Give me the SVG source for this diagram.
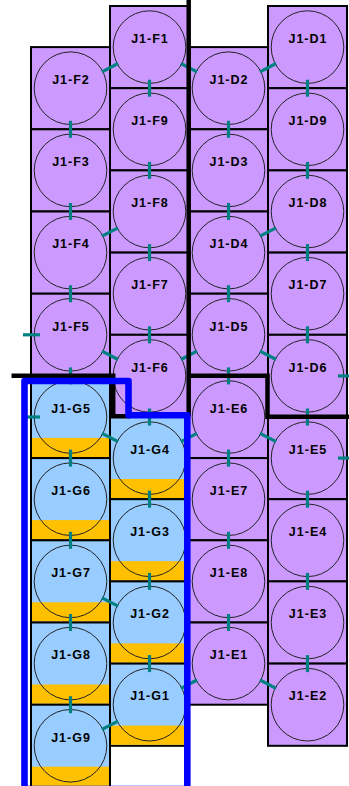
<svg xmlns="http://www.w3.org/2000/svg" width="349" height="786" viewBox="0 0 349 786">
<style>
.p{fill:#cc99ff;stroke:#000;stroke-width:2}
.b{fill:#99ccff;stroke:#000;stroke-width:2}
.o{fill:#ffc000;stroke:none}
circle{fill:none;stroke:#222;stroke-width:1}
text{font-family:"Liberation Sans",Arial,sans-serif;font-weight:bold;font-size:12.5px;letter-spacing:1px;text-anchor:middle;fill:#000}
#connectors line{stroke:#008080;stroke-width:3.2}
.thick{fill:none;stroke:#000;stroke-width:4.5}
.blue{fill:none;stroke:#0000ff;stroke-width:6.6;stroke-linejoin:round}
</style>
<rect width="349" height="786" fill="#fff"/>
<g id="nodes">
<g id="J1-F2"><rect class="p" x="31" y="47.1" width="79" height="82.2"/><circle cx="70.5" cy="88.2" r="36.3"/><text x="71" y="83.9">J1-F2</text></g>
<g id="J1-F3"><rect class="p" x="31" y="129.3" width="79" height="82.2"/><circle cx="70.5" cy="170.4" r="36.3"/><text x="71" y="166.1">J1-F3</text></g>
<g id="J1-F4"><rect class="p" x="31" y="211.5" width="79" height="82.2"/><circle cx="70.5" cy="252.6" r="36.3"/><text x="71" y="248.3">J1-F4</text></g>
<g id="J1-F5"><rect class="p" x="31" y="293.7" width="79" height="82.2"/><circle cx="70.5" cy="334.8" r="36.3"/><text x="71" y="330.5">J1-F5</text></g>
<g id="J1-G5"><rect class="b" x="31" y="375.9" width="79" height="82.2"/><rect class="o" x="32" y="437.9" width="77" height="19.2"/><circle cx="70.5" cy="417" r="36.3"/><text x="71" y="412.7">J1-G5</text></g>
<g id="J1-G6"><rect class="b" x="31" y="458.1" width="79" height="82.2"/><rect class="o" x="32" y="520.1" width="77" height="19.2"/><circle cx="70.5" cy="499.2" r="36.3"/><text x="71" y="494.9">J1-G6</text></g>
<g id="J1-G7"><rect class="b" x="31" y="540.3" width="79" height="82.2"/><rect class="o" x="32" y="602.3" width="77" height="19.2"/><circle cx="70.5" cy="581.4" r="36.3"/><text x="71" y="577.1">J1-G7</text></g>
<g id="J1-G8"><rect class="b" x="31" y="622.5" width="79" height="82.2"/><rect class="o" x="32" y="684.5" width="77" height="19.2"/><circle cx="70.5" cy="663.6" r="36.3"/><text x="71" y="659.3">J1-G8</text></g>
<g id="J1-G9"><rect class="b" x="31" y="704.7" width="79" height="82.2"/><rect class="o" x="32" y="766.7" width="77" height="19.2"/><circle cx="70.5" cy="745.8" r="36.3"/><text x="71" y="741.5">J1-G9</text></g>

<g id="J1-F1"><rect class="p" x="110" y="6" width="79" height="82.2"/><circle cx="149.5" cy="47.1" r="36.3"/><text x="150" y="42.8">J1-F1</text></g>
<g id="J1-F9"><rect class="p" x="110" y="88.2" width="79" height="82.2"/><circle cx="149.5" cy="129.3" r="36.3"/><text x="150" y="125">J1-F9</text></g>
<g id="J1-F8"><rect class="p" x="110" y="170.4" width="79" height="82.2"/><circle cx="149.5" cy="211.5" r="36.3"/><text x="150" y="207.2">J1-F8</text></g>
<g id="J1-F7"><rect class="p" x="110" y="252.6" width="79" height="82.2"/><circle cx="149.5" cy="293.7" r="36.3"/><text x="150" y="289.4">J1-F7</text></g>
<g id="J1-F6"><rect class="p" x="110" y="334.8" width="79" height="82.2"/><circle cx="149.5" cy="375.9" r="36.3"/><text x="150" y="371.6">J1-F6</text></g>
<g id="J1-G4"><rect class="b" x="110" y="417" width="79" height="82.2"/><rect class="o" x="111" y="479" width="77" height="19.2"/><circle cx="149.5" cy="458.1" r="36.3"/><text x="150" y="453.8">J1-G4</text></g>
<g id="J1-G3"><rect class="b" x="110" y="499.2" width="79" height="82.2"/><rect class="o" x="111" y="561.2" width="77" height="19.2"/><circle cx="149.5" cy="540.3" r="36.3"/><text x="150" y="536">J1-G3</text></g>
<g id="J1-G2"><rect class="b" x="110" y="581.4" width="79" height="82.2"/><rect class="o" x="111" y="643.4" width="77" height="19.2"/><circle cx="149.5" cy="622.5" r="36.3"/><text x="150" y="618.2">J1-G2</text></g>
<g id="J1-G1"><rect class="b" x="110" y="663.6" width="79" height="82.2"/><rect class="o" x="111" y="725.6" width="77" height="19.2"/><circle cx="149.5" cy="704.7" r="36.3"/><text x="150" y="700.4">J1-G1</text></g>

<g id="J1-D2"><rect class="p" x="189" y="47.1" width="79" height="82.2"/><circle cx="228.5" cy="88.2" r="36.3"/><text x="229" y="83.9">J1-D2</text></g>
<g id="J1-D3"><rect class="p" x="189" y="129.3" width="79" height="82.2"/><circle cx="228.5" cy="170.4" r="36.3"/><text x="229" y="166.1">J1-D3</text></g>
<g id="J1-D4"><rect class="p" x="189" y="211.5" width="79" height="82.2"/><circle cx="228.5" cy="252.6" r="36.3"/><text x="229" y="248.3">J1-D4</text></g>
<g id="J1-D5"><rect class="p" x="189" y="293.7" width="79" height="82.2"/><circle cx="228.5" cy="334.8" r="36.3"/><text x="229" y="330.5">J1-D5</text></g>
<g id="J1-E6"><rect class="p" x="189" y="375.9" width="79" height="82.2"/><circle cx="228.5" cy="417" r="36.3"/><text x="229" y="412.7">J1-E6</text></g>
<g id="J1-E7"><rect class="p" x="189" y="458.1" width="79" height="82.2"/><circle cx="228.5" cy="499.2" r="36.3"/><text x="229" y="494.9">J1-E7</text></g>
<g id="J1-E8"><rect class="p" x="189" y="540.3" width="79" height="82.2"/><circle cx="228.5" cy="581.4" r="36.3"/><text x="229" y="577.1">J1-E8</text></g>
<g id="J1-E1"><rect class="p" x="189" y="622.5" width="79" height="82.2"/><circle cx="228.5" cy="663.6" r="36.3"/><text x="229" y="659.3">J1-E1</text></g>

<g id="J1-D1"><rect class="p" x="268" y="6" width="79" height="82.2"/><circle cx="307.5" cy="47.1" r="36.3"/><text x="308" y="42.8">J1-D1</text></g>
<g id="J1-D9"><rect class="p" x="268" y="88.2" width="79" height="82.2"/><circle cx="307.5" cy="129.3" r="36.3"/><text x="308" y="125">J1-D9</text></g>
<g id="J1-D8"><rect class="p" x="268" y="170.4" width="79" height="82.2"/><circle cx="307.5" cy="211.5" r="36.3"/><text x="308" y="207.2">J1-D8</text></g>
<g id="J1-D7"><rect class="p" x="268" y="252.6" width="79" height="82.2"/><circle cx="307.5" cy="293.7" r="36.3"/><text x="308" y="289.4">J1-D7</text></g>
<g id="J1-D6"><rect class="p" x="268" y="334.8" width="79" height="82.2"/><circle cx="307.5" cy="375.9" r="36.3"/><text x="308" y="371.6">J1-D6</text></g>
<g id="J1-E5"><rect class="p" x="268" y="417" width="79" height="82.2"/><circle cx="307.5" cy="458.1" r="36.3"/><text x="308" y="453.8">J1-E5</text></g>
<g id="J1-E4"><rect class="p" x="268" y="499.2" width="79" height="82.2"/><circle cx="307.5" cy="540.3" r="36.3"/><text x="308" y="536">J1-E4</text></g>
<g id="J1-E3"><rect class="p" x="268" y="581.4" width="79" height="82.2"/><circle cx="307.5" cy="622.5" r="36.3"/><text x="308" y="618.2">J1-E3</text></g>
<g id="J1-E2"><rect class="p" x="268" y="663.6" width="79" height="82.2"/><circle cx="307.5" cy="704.7" r="36.3"/><text x="308" y="700.4">J1-E2</text></g>
</g>

<g id="connectors">
<line x1="70.5" y1="120.8" x2="70.5" y2="137.8"/>
<line x1="70.5" y1="203" x2="70.5" y2="220"/>
<line x1="70.5" y1="285.2" x2="70.5" y2="302.2"/>
<line x1="70.5" y1="367.4" x2="70.5" y2="384.4"/>
<line x1="70.5" y1="449.6" x2="70.5" y2="466.6"/>
<line x1="70.5" y1="531.8" x2="70.5" y2="548.8"/>
<line x1="70.5" y1="614" x2="70.5" y2="631"/>
<line x1="70.5" y1="696.2" x2="70.5" y2="713.2"/>

<line x1="149.5" y1="79.7" x2="149.5" y2="96.7"/>
<line x1="149.5" y1="161.9" x2="149.5" y2="178.9"/>
<line x1="149.5" y1="244.1" x2="149.5" y2="261.1"/>
<line x1="149.5" y1="326.3" x2="149.5" y2="343.3"/>
<line x1="149.5" y1="408.5" x2="149.5" y2="425.5"/>
<line x1="149.5" y1="490.7" x2="149.5" y2="507.7"/>
<line x1="149.5" y1="572.9" x2="149.5" y2="589.9"/>
<line x1="149.5" y1="655.1" x2="149.5" y2="672.1"/>

<line x1="228.5" y1="120.8" x2="228.5" y2="137.8"/>
<line x1="228.5" y1="203" x2="228.5" y2="220"/>
<line x1="228.5" y1="285.2" x2="228.5" y2="302.2"/>
<line x1="228.5" y1="367.4" x2="228.5" y2="384.4"/>
<line x1="228.5" y1="449.6" x2="228.5" y2="466.6"/>
<line x1="228.5" y1="531.8" x2="228.5" y2="548.8"/>
<line x1="228.5" y1="614" x2="228.5" y2="631"/>

<line x1="307.5" y1="79.7" x2="307.5" y2="96.7"/>
<line x1="307.5" y1="161.9" x2="307.5" y2="178.9"/>
<line x1="307.5" y1="244.1" x2="307.5" y2="261.1"/>
<line x1="307.5" y1="326.3" x2="307.5" y2="343.3"/>
<line x1="307.5" y1="408.5" x2="307.5" y2="425.5"/>
<line x1="307.5" y1="490.7" x2="307.5" y2="507.7"/>
<line x1="307.5" y1="572.9" x2="307.5" y2="589.9"/>
<line x1="307.5" y1="655.1" x2="307.5" y2="672.1"/>

<line x1="102" y1="71.8" x2="118" y2="63.5"/>
<line x1="102" y1="236.2" x2="118" y2="227.9"/>
<line x1="102" y1="351.2" x2="118" y2="359.5"/>
<line x1="102" y1="433.4" x2="118" y2="441.7"/>
<line x1="102" y1="597.8" x2="118" y2="606.1"/>
<line x1="102" y1="729.4" x2="118" y2="721.1"/>

<line x1="181" y1="63.5" x2="197" y2="71.8"/>
<line x1="181" y1="359.5" x2="197" y2="351.2"/>
<line x1="181" y1="441.7" x2="197" y2="433.4"/>
<line x1="181" y1="688.3" x2="197" y2="680"/>

<line x1="260" y1="71.8" x2="276" y2="63.5"/>
<line x1="260" y1="236.2" x2="276" y2="227.9"/>
<line x1="260" y1="351.2" x2="276" y2="359.5"/>
<line x1="260" y1="433.4" x2="276" y2="441.7"/>
<line x1="260" y1="680" x2="276" y2="688.3"/>

<line x1="23" y1="334.8" x2="40" y2="334.8"/>
<line x1="23" y1="417" x2="40" y2="417"/>
<line x1="338" y1="375.9" x2="355" y2="375.9"/>
<line x1="338" y1="458.1" x2="355" y2="458.1"/>
</g>

<g id="boundaries">
<path class="thick" d="M188.7,0 V416.5"/>
<path class="thick" d="M11.5,375.8 H113.2 V416.2 H130"/>
<path class="thick" d="M188.7,375.8 H267.5 V416.7 H349"/>
<path class="blue" d="M24.5,381 H128.5 V415.3 H187.3 V789 H24.5 Z"/>
</g>
</svg>
